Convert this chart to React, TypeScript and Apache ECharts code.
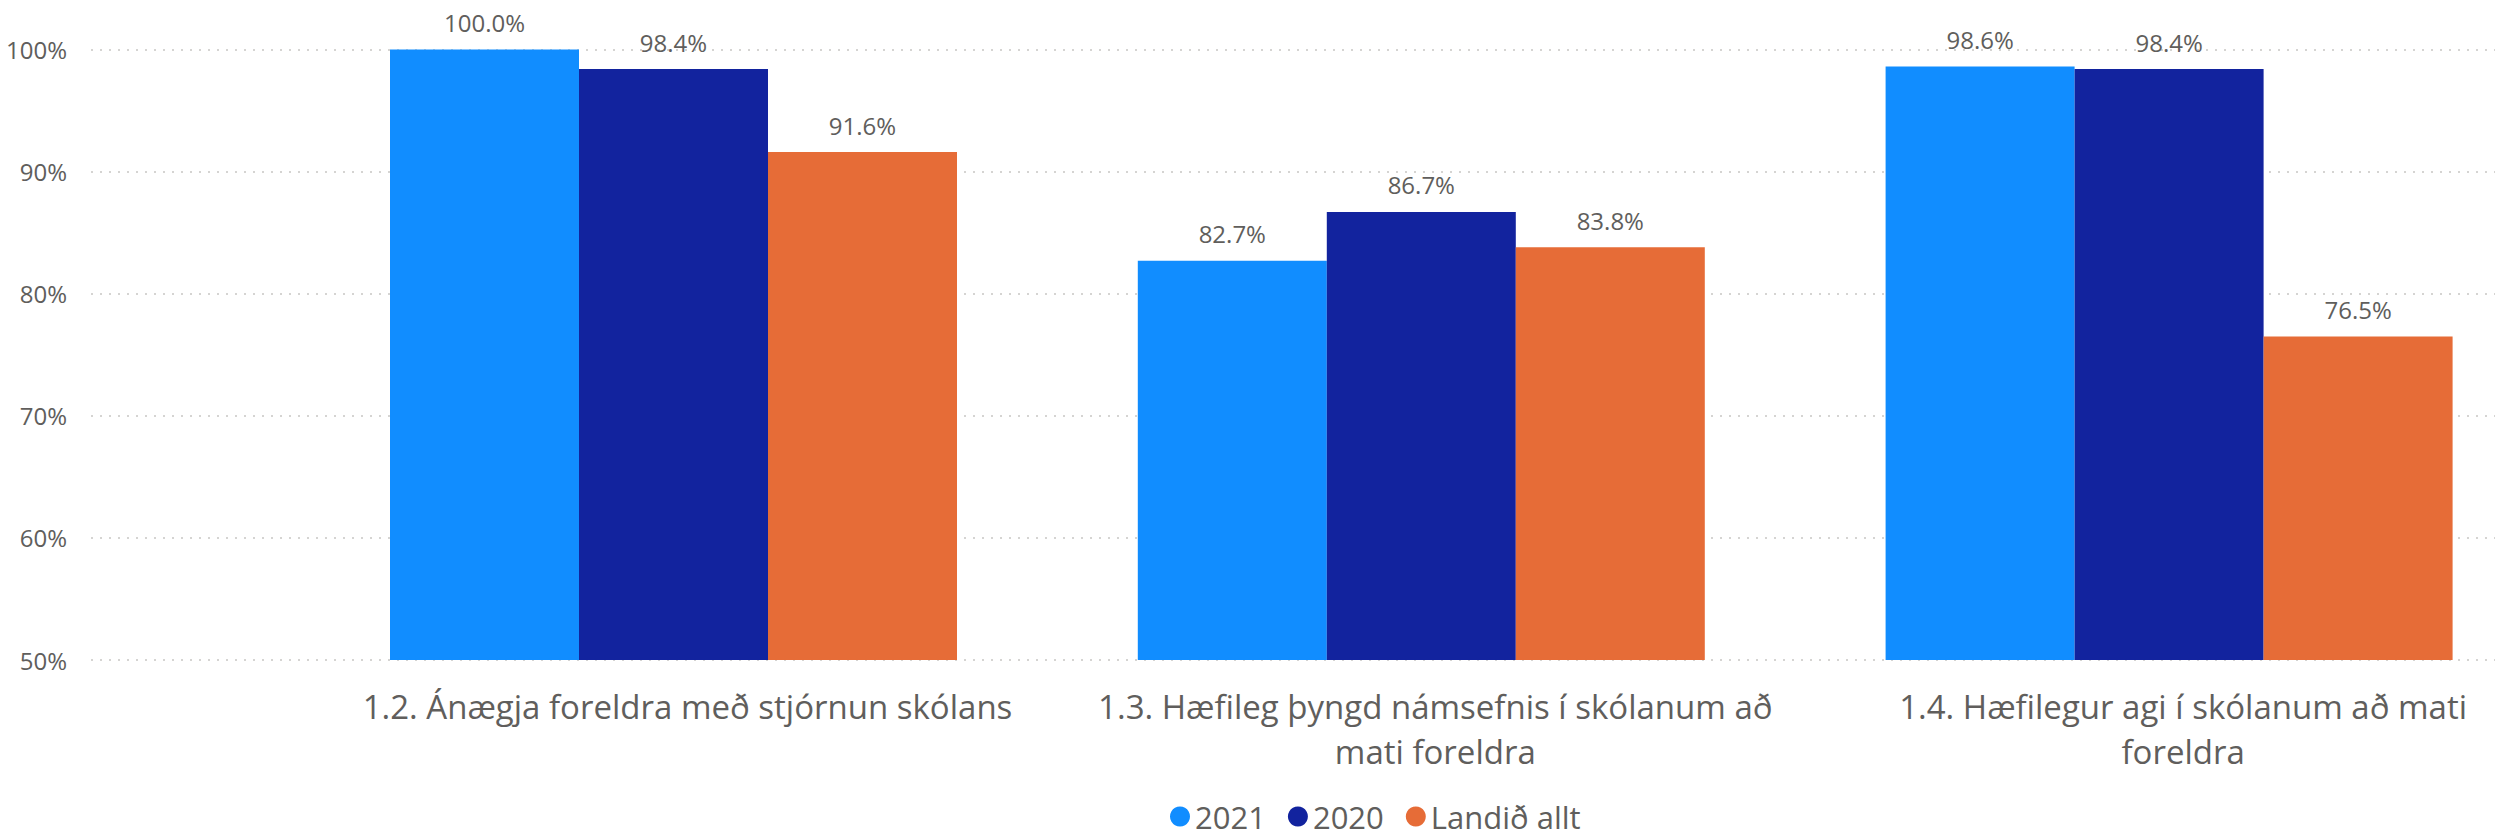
import React, { useEffect, useRef } from "react";
import * as echarts from "echarts";

const categories = [
  "1.2. Ánægja foreldra með stjórnun skólans",
  "1.3. Hæfileg þyngd námsefnis í skólanum að mati foreldra",
  "1.4. Hæfilegur agi í skólanum að mati foreldra",
];
// How each category label wraps in the reference
const categoryLabels = [
  "1.2. Ánægja foreldra með stjórnun skólans",
  "1.3. Hæfileg þyngd námsefnis í skólanum að\nmati foreldra",
  "1.4. Hæfilegur agi í skólanum að mati\nforeldra",
];
const seriesNames = ["2021", "2020", "Landið allt"];
const values2021 = [100.0, 82.7, 98.6];
const values2020 = [98.4, 86.7, 98.4];
const valuesLandid = [91.6, 83.8, 76.5];
const colors = ["#118DFF", "#12239E", "#E66C37"];
const yMin = 50;
const yMax = 100;
const yInterval = 10;

const FONT = "'Segoe UI', 'Open Sans', sans-serif";
const TEXT = "#605E5C";

export default function App() {
  const ref = useRef<HTMLDivElement>(null);
  useEffect(() => {
    document.body.style.margin = "0";
    if (!ref.current) return;
    const chart = echarts.init(ref.current, undefined, { renderer: "svg" });
    const allValues = [values2021, values2020, valuesLandid];
    chart.setOption({
      animation: false,
      textStyle: { fontFamily: FONT },
      legend: {
        data: seriesNames,
        left: 1170,
        top: 801,
        padding: 0,
        icon: "circle",
        itemWidth: 20,
        itemHeight: 20,
        itemGap: 22,
        textStyle: { fontSize: 31, lineHeight: 28, color: TEXT, fontFamily: FONT },
      },
      grid: [
        { left: 91, right: 8, top: 49.5, bottom: 177, outerBoundsMode: "none" },
        { left: 299.6, right: -40, top: 49.5, bottom: 177, outerBoundsMode: "none" },
      ],
      xAxis: [
        {
          type: "category",
          gridIndex: 0,
          data: ["a"],
          show: false,
        },
        {
          type: "category",
          gridIndex: 1,
          data: categories,
          axisLine: { show: false },
          axisTick: { show: false },
          axisLabel: {
            interval: 0,
            margin: 24,
            fontSize: 33,
            lineHeight: 45,
            color: TEXT,
            fontFamily: FONT,
            padding: [0, 0, 0, 28],
            formatter: (v: string) => {
              const idx = categories.indexOf(v);
              return idx >= 0 ? categoryLabels[idx] : v;
            },
          },
        },
      ],
      yAxis: [
        {
          type: "value",
          gridIndex: 0,
          min: yMin,
          max: yMax,
          interval: yInterval,
          axisLine: { show: false },
          axisTick: { show: false },
          axisLabel: {
            formatter: "{value}%",
            margin: 24,
            fontSize: 24,
            color: TEXT,
            fontFamily: FONT,
          },
          splitLine: {
            show: true,
            lineStyle: { color: "#C8C6C4", width: 1.5, type: [2, 7] },
          },
        },
        {
          type: "value",
          gridIndex: 1,
          min: yMin,
          max: yMax,
          interval: yInterval,
          show: false,
          splitLine: { show: false },
        },
      ],
      series: seriesNames.map((name, i) => ({
        name,
        type: "bar",
        xAxisIndex: 1,
        yAxisIndex: 1,
        data: allValues[i],
        barWidth: 189,
        barGap: "0%",
        itemStyle: { color: colors[i] },
        label: {
          show: true,
          position: "top",
          distance: 15,
          fontSize: 24,
          color: TEXT,
          fontFamily: FONT,
          formatter: (p: any) => `${Number(p.value).toFixed(1)}%`,
        },
      })),
    });
    return () => chart.dispose();
  }, []);
  return <div ref={ref} style={{ width: 2503, height: 837 }} />;
}
